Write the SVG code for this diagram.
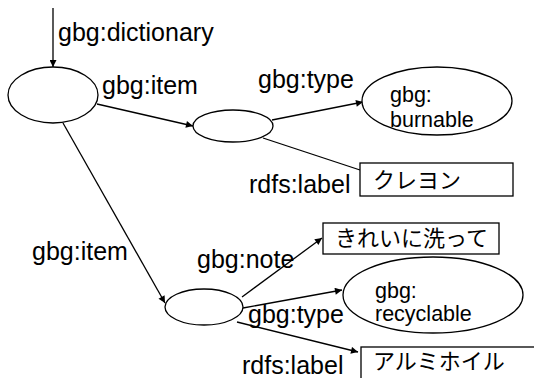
<svg xmlns="http://www.w3.org/2000/svg" width="534" height="378" viewBox="0 0 534 378">
<style>
.n{fill:#fff;stroke:#000;stroke-width:1.3}
.c{fill:none;stroke:#000;stroke-width:1.3}
.t{font-family:"Liberation Sans",Arial,sans-serif;font-size:25px;fill:#000}
.s{font-family:"Liberation Sans",Arial,sans-serif;font-size:21.5px;fill:#000}
.j{font-family:"Noto Sans CJK JP","Liberation Sans",sans-serif;font-size:22px;fill:#000}
</style>
<defs>
<marker id="a" viewBox="0 0 10 10" refX="10" refY="5" markerWidth="8" markerHeight="7" markerUnits="userSpaceOnUse" orient="auto">
<path d="M0,0L10,5L0,10z" fill="#000"/>
</marker>
</defs>
<g id="connectors">
<line class="c" x1="53" y1="8" x2="53" y2="67" marker-end="url(#a)"/>
<line class="c" x1="97" y1="104" x2="193" y2="126" marker-end="url(#a)"/>
<line class="c" x1="272" y1="120" x2="363" y2="102" marker-end="url(#a)"/>
<line class="c" x1="263" y1="138" x2="360" y2="170"/>
<line class="c" x1="63" y1="123" x2="165" y2="303" marker-end="url(#a)"/>
<line class="c" x1="242" y1="297" x2="322" y2="238" marker-end="url(#a)"/>
<line class="c" x1="243" y1="308" x2="342" y2="290" marker-end="url(#a)"/>
<line class="c" x1="237" y1="322" x2="358" y2="352" marker-end="url(#a)"/>
</g>
<g id="root"><ellipse class="n" cx="53" cy="95" rx="45" ry="28"/></g>
<g id="item1"><ellipse class="n" cx="233" cy="126" rx="40" ry="16"/></g>
<g id="burnable"><ellipse class="n" cx="437" cy="101" rx="75" ry="34"/>
<text class="s" x="390" y="102">gbg:</text><text class="s" x="390" y="127">burnable</text></g>
<g id="label1"><rect class="n" x="360" y="163" width="153" height="33"/>
<text class="j" x="373" y="188">クレヨン</text></g>
<g id="item2"><ellipse class="n" cx="204" cy="307" rx="39" ry="18"/></g>
<g id="note"><rect class="n" x="323" y="223" width="176" height="31"/>
<text class="j" x="335" y="246">きれいに洗って</text></g>
<g id="recyclable"><ellipse class="n" cx="433" cy="295" rx="90" ry="38"/>
<text class="s" x="375" y="298">gbg:</text><text class="s" x="375" y="321">recyclable</text></g>
<g id="label2"><rect class="n" x="361" y="347" width="200" height="40"/>
<text class="j" x="373" y="369">アルミホイル</text></g>
<g id="labels">
<text class="t" x="58" y="41">gbg:dictionary</text>
<text class="t" x="102" y="94">gbg:item</text>
<text class="t" x="258" y="88">gbg:type</text>
<text class="t" x="249" y="193">rdfs:label</text>
<text class="t" x="32" y="260">gbg:item</text>
<text class="t" x="197" y="268">gbg:note</text>
<text class="t" x="248" y="323">gbg:type</text>
<text class="t" x="242" y="374">rdfs:label</text>
</g>
</svg>
